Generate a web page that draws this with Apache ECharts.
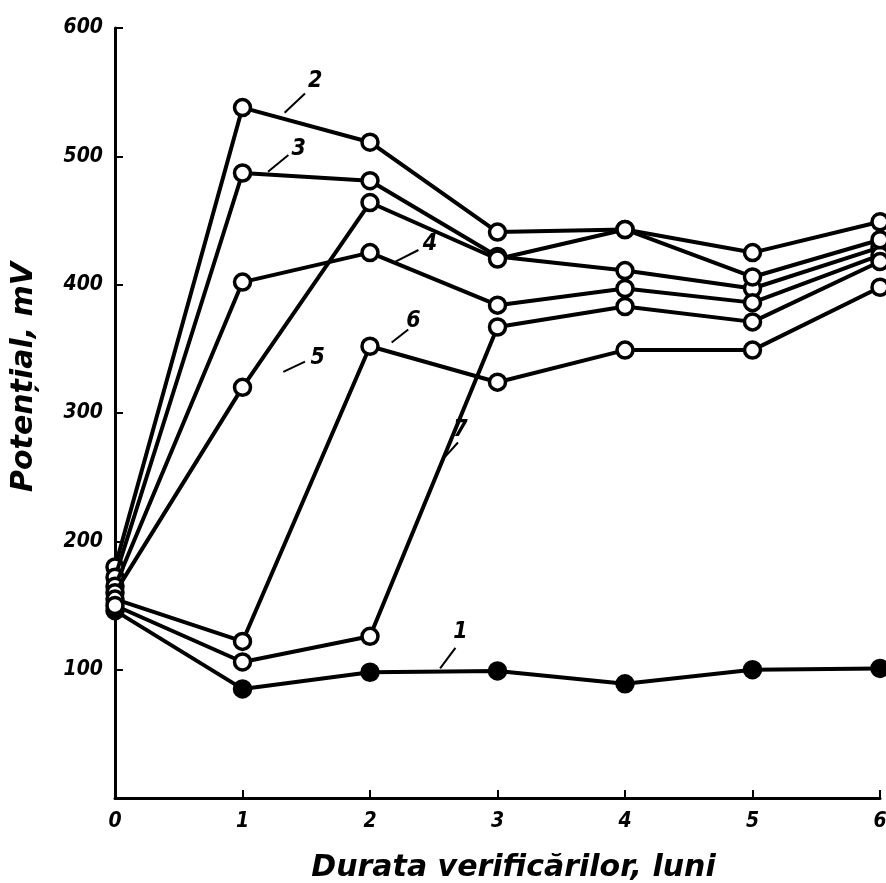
<!DOCTYPE html>
<html>
<head>
<meta charset="utf-8">
<script src="https://cdn.jsdelivr.net/npm/echarts@6/dist/echarts.min.js"></script>
<style>
  html, body { margin: 0; padding: 0; background: #fff; }
  #chart { width: 886px; height: 883px; }
</style>
</head>
<body>
<div id="chart"></div>
<script>
// durata verificarilor (luni)
const months = [0, 1, 2, 3, 4, 5, 6]

// potential, mV - curbele 1..7
const curve1 = [146, 85, 98, 99, 89, 100, 101]
const curve2 = [180, 538, 511, 441, 443, 425, 449]
const curve3 = [172, 487, 481, 422, 411, 397, 429]
const curve4 = [165, 402, 425, 384, 397, 386, 423]
const curve5 = [160, 320, 464, 420, 443, 406, 435]
const curve6 = [155, 122, 352, 324, 349, 349, 398]
const curve7 = [150, 106, 126, 367, 383, 371, 418]

// numar curba, pozitie text si capetele liniei de indicatie (in unitati de date)
const curveNames = ['1', '2', '3', '4', '5', '6', '7']
const labelPos = [[2.71, 129], [1.57, 559], [1.44, 506], [2.47, 432], [1.59, 343], [2.34, 372], [2.71, 287]]
const leaderFrom = [[2.55, 101], [1.33, 534], [1.20, 488], [2.20, 418], [1.32, 332], [2.17, 355], [2.59, 266]]
const leaderTo = [[2.67, 117], [1.49, 549], [1.36, 501], [2.38, 427], [1.49, 340], [2.30, 365], [2.69, 277]]

const yMin = 0
const yMax = 600
const yStep = 100

const curves = [curve1, curve2, curve3, curve4, curve5, curve6, curve7]

const chart = echarts.init(document.getElementById('chart'))

const digitFont = {
  fontFamily: 'DejaVu Sans Condensed, DejaVu Sans',
  fontStyle: 'italic',
  fontWeight: 'bold',
  fontSize: 21,
  color: '#000'
}

const titleFont = {
  fontFamily: 'DejaVu Sans',
  fontStyle: 'italic',
  fontWeight: 'bold',
  fontSize: 30,
  color: '#000'
}

const series = curves.map((vals, i) => ({
  name: curveNames[i],
  type: 'line',
  data: months.map((m, j) => [m, vals[j]]),
  symbol: 'circle',
  symbolSize: 16,
  showSymbol: true,
  clip: false,
  lineStyle: { color: '#000', width: 4 },
  itemStyle: {
    color: i === 0 ? '#000' : '#fff',
    borderColor: '#000',
    borderWidth: 3.5
  },
  z: 3 + i,
  animation: false,
  markPoint: {
    symbol: 'circle',
    symbolSize: 1,
    itemStyle: { color: 'transparent' },
    label: {
      show: true,
      position: 'inside',
      formatter: curveNames[i],
      ...digitFont,
      fontSize: 23
    },
    data: [{ coord: labelPos[i] }]
  },
  markLine: {
    symbol: 'none',
    silent: true,
    label: { show: false },
    lineStyle: { color: '#000', width: 2, type: 'solid' },
    data: [[{ coord: leaderFrom[i] }, { coord: leaderTo[i] }]]
  }
}))

chart.setOption({
  backgroundColor: '#fff',
  animation: false,
  grid: {
    left: 115,
    right: 6,
    top: 28,
    bottom: 85,
    containLabel: false,
    outerBoundsMode: 'none'
  },
  xAxis: {
    type: 'value',
    min: 0,
    max: 6,
    interval: 1,
    name: 'Durata verificărilor, luni',
    nameLocation: 'middle',
    nameGap: 55,
    nameTextStyle: { ...titleFont, padding: [0, 0, 0, 32] },
    axisLine: { show: true, onZero: false, lineStyle: { color: '#000', width: 3 } },
    axisTick: { show: true, inside: true, length: 8, lineStyle: { color: '#000', width: 2 } },
    axisLabel: { ...digitFont, margin: 13, showMaxLabel: true },
    splitLine: { show: false }
  },
  yAxis: {
    type: 'value',
    min: yMin,
    max: yMax,
    interval: yStep,
    name: 'Potențial, mV',
    nameLocation: 'middle',
    nameGap: 76,
    nameRotate: 90,
    nameTextStyle: { ...titleFont, padding: [0, 0, 0, 72] },
    axisLine: { show: true, onZero: false, lineStyle: { color: '#000', width: 3 } },
    axisTick: { show: true, inside: true, length: 8, lineStyle: { color: '#000', width: 2 } },
    axisLabel: {
      ...digitFont,
      margin: 12,
      formatter: v => (v === 0 ? '' : String(v))
    },
    splitLine: { show: false }
  },
  series
})
</script>
</body>
</html>
